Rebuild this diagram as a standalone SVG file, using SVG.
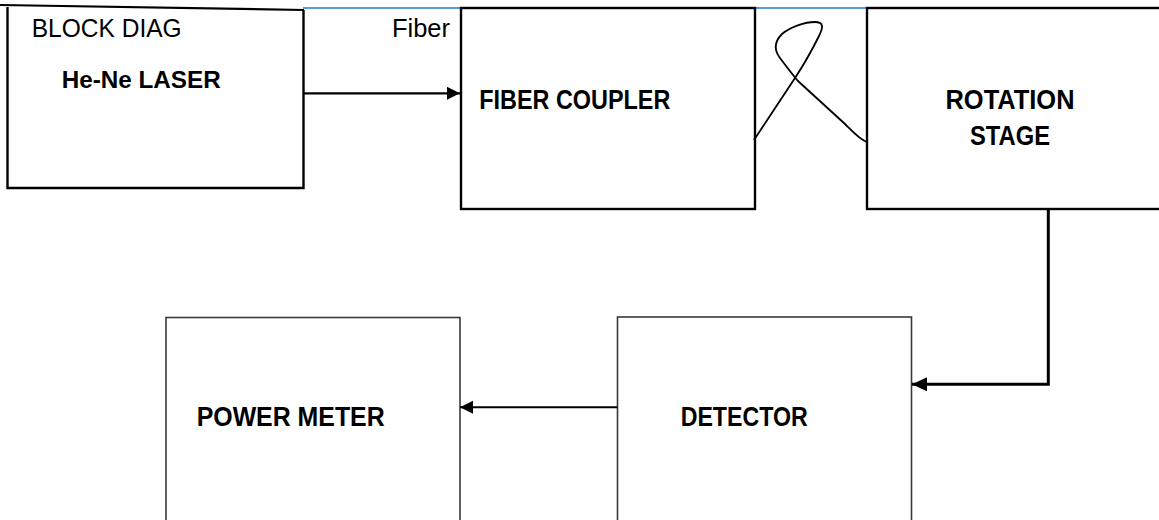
<svg xmlns="http://www.w3.org/2000/svg" width="1159" height="520" viewBox="0 0 1159 520">
  <defs>
    <style>
      .box { fill: #ffffff; stroke: #000000; stroke-width: 2.4; }
      .box-thin { fill: #ffffff; stroke: #3a3a3a; stroke-width: 1.6; }
      .label { font-family: "Liberation Sans", Arial, sans-serif; font-weight: bold; fill: #000000; }
      .note { font-family: "Liberation Sans", Arial, sans-serif; fill: #000000; }
      .wire { fill: none; stroke: #000000; }
      .fiber-top { fill: none; stroke: #5b9bd5; stroke-width: 2; }
    </style>
    <marker id="head" markerWidth="14" markerHeight="14" refX="13" refY="6.5" orient="auto" markerUnits="userSpaceOnUse">
      <path d="M0,0 L13,6.5 L0,13 Z" fill="#000000"/>
    </marker>
    <marker id="head-lg" markerWidth="16" markerHeight="16" refX="15" refY="7" orient="auto" markerUnits="userSpaceOnUse">
      <path d="M0,0 L15,7 L0,14 Z" fill="#000000"/>
    </marker>
  </defs>

  <rect width="1159" height="520" fill="#ffffff"/>

  <!-- fibre run along the top edge -->
  <line class="fiber-top" x1="303" y1="8" x2="866" y2="8"/>

  <!-- laser source box (slanted top rule) -->
  <g id="laser">
    <path d="M0,5 L304,10" class="wire" stroke-width="2.2"/>
    <path d="M7.5,7 V188 H303.5 V10" class="wire" stroke-width="2.4"/>
    <text class="note" x="31.7" y="37.3" font-size="25" textLength="150" lengthAdjust="spacingAndGlyphs">BLOCK DIAG</text>
    <text class="label" x="61.7" y="88.3" font-size="23" textLength="159" lengthAdjust="spacingAndGlyphs">He-Ne LASER</text>
  </g>

  <text id="fiber-label" class="note" x="392" y="36.7" font-size="25" textLength="58" lengthAdjust="spacingAndGlyphs">Fiber</text>

  <g id="coupler">
    <rect class="box" x="461" y="8" width="294" height="201"/>
    <text class="label" x="479.3" y="109" font-size="27" textLength="191" lengthAdjust="spacingAndGlyphs">FIBER COUPLER</text>
  </g>

  <g id="rotation-stage">
    <rect class="box" x="867" y="8" width="300" height="201"/>
    <text class="label" x="1010" y="109.3" font-size="27" text-anchor="middle" textLength="129" lengthAdjust="spacingAndGlyphs">ROTATION</text>
    <text class="label" x="1010" y="145" font-size="27" text-anchor="middle" textLength="80" lengthAdjust="spacingAndGlyphs">STAGE</text>
  </g>

  <g id="detector">
    <rect class="box-thin" x="617.5" y="317" width="294" height="220"/>
    <text class="label" x="680.7" y="426" font-size="27" textLength="127" lengthAdjust="spacingAndGlyphs">DETECTOR</text>
  </g>

  <g id="power-meter">
    <rect class="box-thin" x="166" y="317.5" width="294" height="220"/>
    <text class="label" x="196.7" y="426" font-size="27" textLength="188" lengthAdjust="spacingAndGlyphs">POWER METER</text>
  </g>

  <g id="connectors">
    <!-- laser to coupler -->
    <line class="wire" stroke-width="2.2" x1="303" y1="93.3" x2="460" y2="93.3" marker-end="url(#head)"/>
    <!-- looped fibre between coupler and rotation stage -->
    <path class="wire" stroke-width="1.8" d="M754,140 L795,78 C803,66 813,48 819,36 C824,26 823,22 815,22 C805,22 790,27 782,34 C774,42 774,50 780,58 C786,66 792,74 798,81 L845,124 C853,132 860,140 867,142"/>
    <!-- rotation stage down to detector -->
    <polyline class="wire" stroke-width="3" points="1048.3,209 1048.3,384.3 912,384.3" marker-end="url(#head-lg)"/>
    <!-- detector to power meter -->
    <line class="wire" stroke-width="2" x1="617.5" y1="407.3" x2="460" y2="407.3" marker-end="url(#head)"/>
  </g>
</svg>
